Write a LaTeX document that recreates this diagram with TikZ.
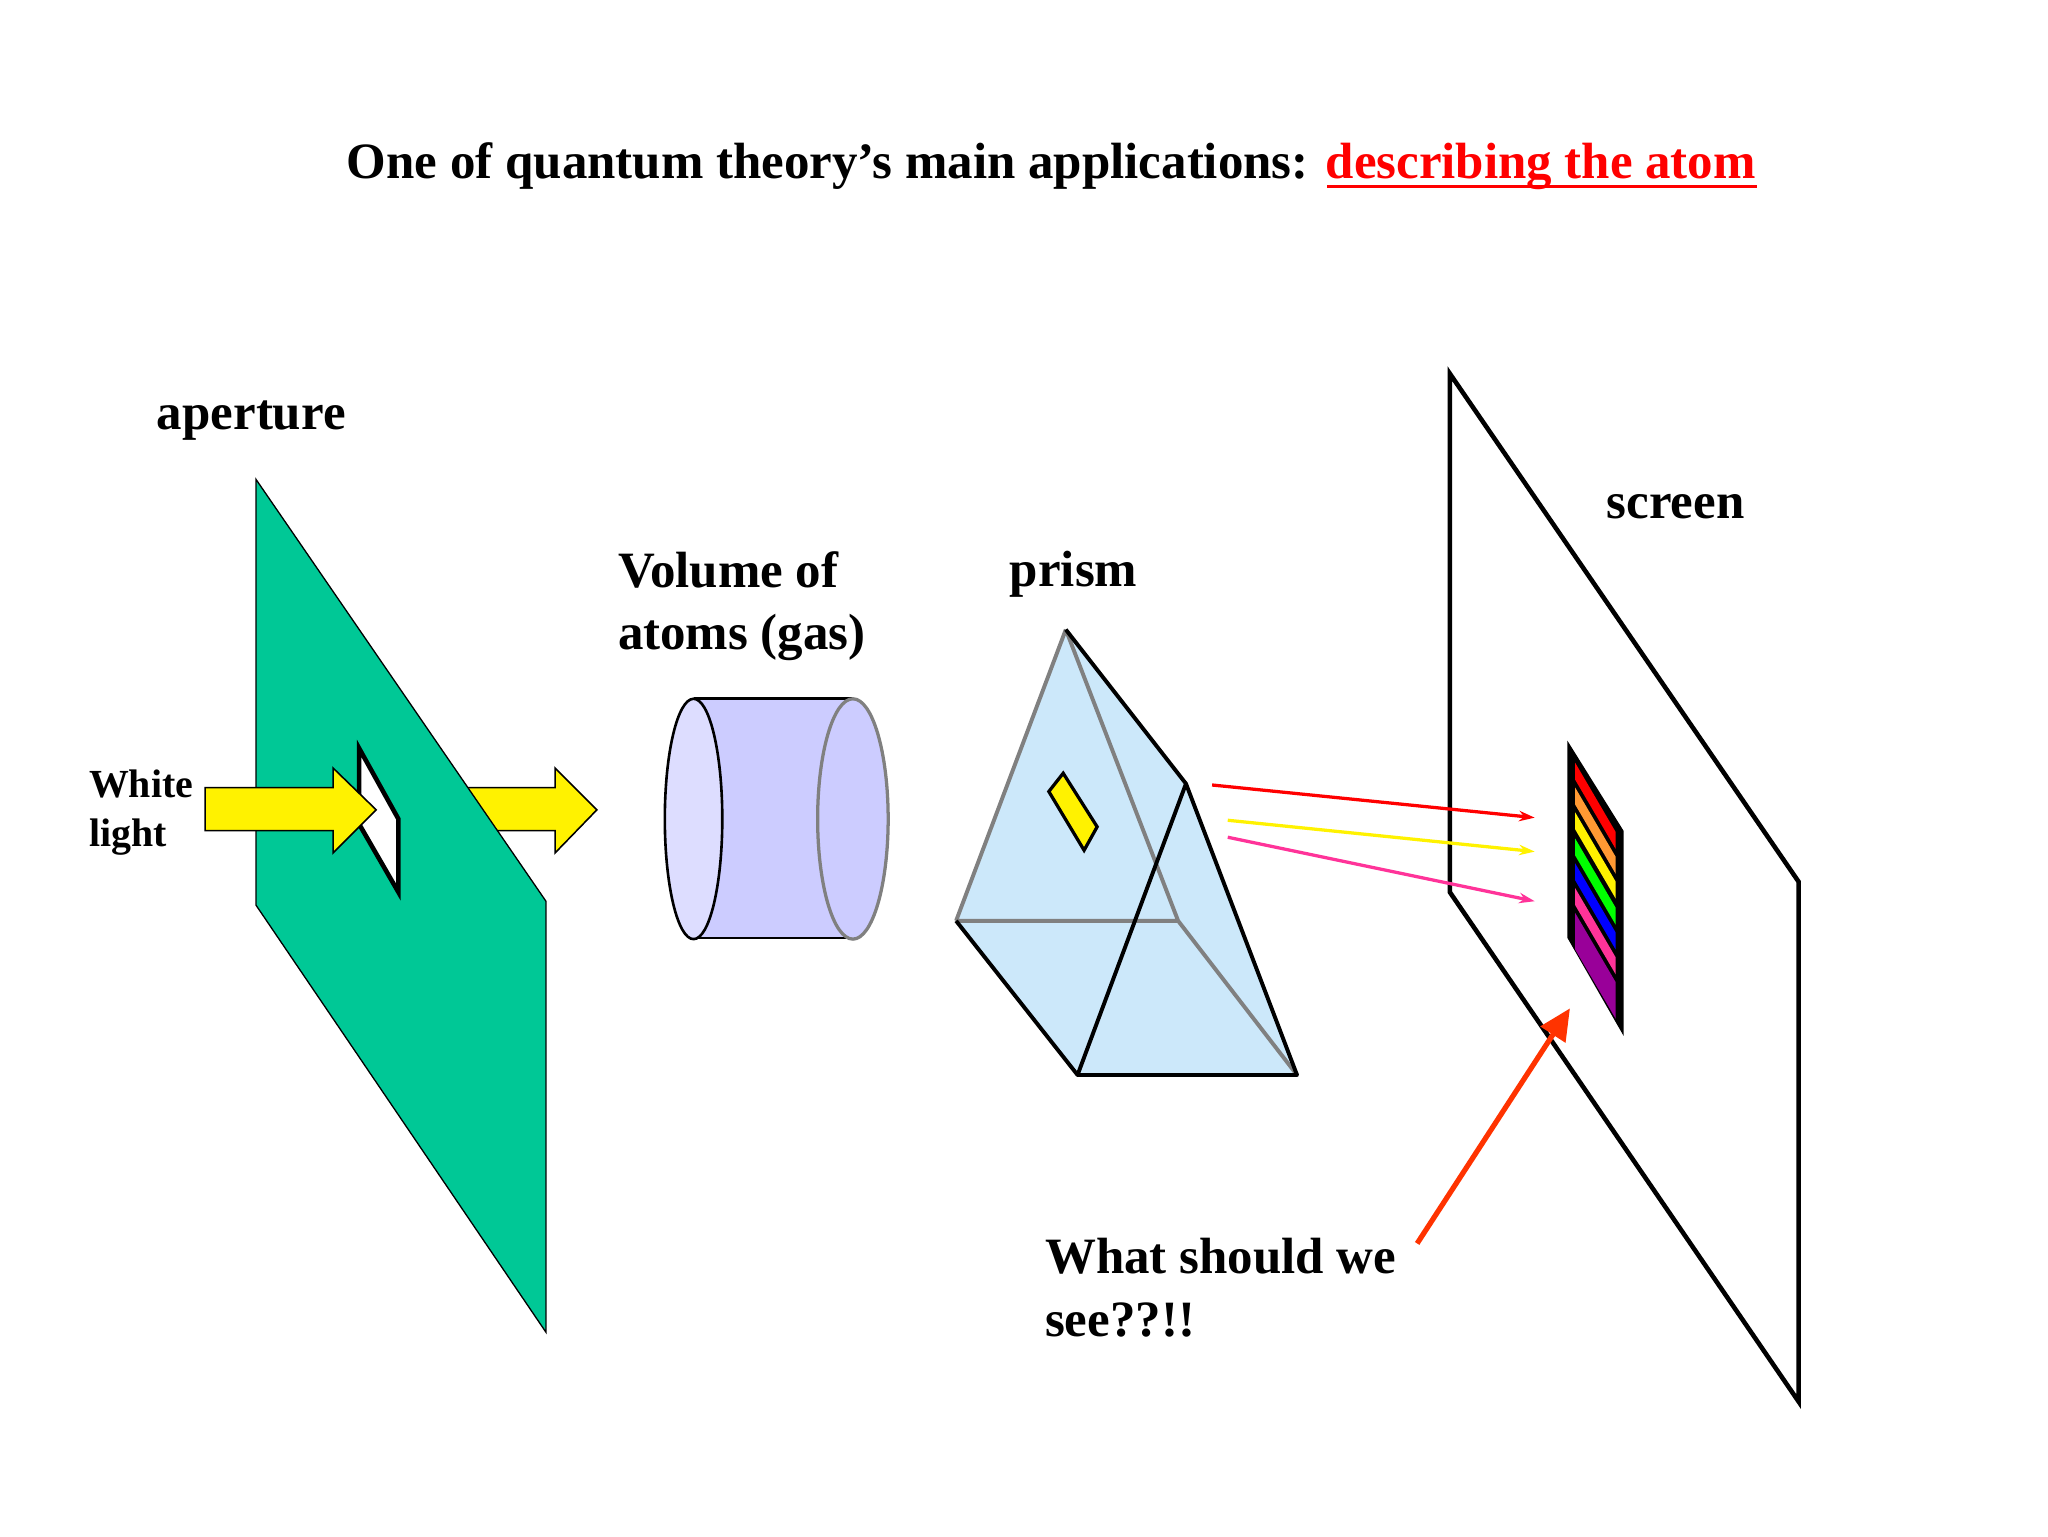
\documentclass[tikz,border=0pt]{standalone}
\usepackage{fontspec}
\setmainfont{Liberation Serif}
\usetikzlibrary{arrows.meta}
\definecolor{apgreen}{RGB}{0,200,150}
\definecolor{cyl}{RGB}{204,204,255}
\definecolor{cylL}{RGB}{221,221,255}
\definecolor{prismblue}{RGB}{204,232,250}
\definecolor{sorange}{RGB}{255,153,51}
\definecolor{sgreen}{RGB}{0,255,0}
\definecolor{spink}{RGB}{255,51,153}
\definecolor{spurple}{RGB}{153,0,153}
\definecolor{qred}{RGB}{255,51,0}
\begin{document}
\begin{tikzpicture}[x=1pt,y=-1pt,
 lbl/.style={font=\fontsize{39}{48}\selectfont\bfseries,anchor=west,align=left,inner sep=0pt},
 yarrow/.style={fill=yellow,draw=black,line width=1.2pt},
 ray/.style={line width=2.5pt,-{Stealth[length=12pt,width=8pt]}}]
\useasboundingbox (0,0) rectangle (1568,1176);
\fill[white] (0,0) rectangle (1568,1176);
\node[lbl,anchor=center] (title) at (805,127) {One of quantum theory’s main applications: \textcolor{red}{describing the atom}};
\draw[red,line width=2pt] (1016,143) -- (1345,143);
% second arrow (behind aperture)
\draw[yarrow] (330,603) -- (425,603) -- (425,588) -- (457,620) -- (425,653) -- (425,636) -- (330,636) -- cycle;
% aperture
\draw[fill=apgreen,draw=black,line width=1pt] (196,367) -- (418,690) -- (418,1020) -- (196,693) -- cycle;
\draw[fill=white,line width=3.5pt] (275,573) -- (305,627) -- (305,683) -- (275,631) -- cycle;
\draw[yarrow] (157,603) -- (255,603) -- (255,588) -- (288,620) -- (255,653) -- (255,636) -- (157,636) -- cycle;
\node[lbl] (ap) at (120,322) {aperture};
\node[lbl,font=\fontsize{30.5}{38}\selectfont\bfseries] (wl) at (68,622) {White\\light};
% cylinder
\fill[cyl] (531,535) rectangle (653,718);
\draw[line width=2pt] (531,535) -- (653,535) (531,718) -- (653,718);
\draw[fill=cyl,draw=gray,line width=2.5pt] (653,627) ellipse (27 and 92);
\draw[fill=cylL,line width=2pt] (531,627) ellipse (22 and 92);
\node[lbl,align=left] (vol) at (473,464) {Volume of\\atoms (gas)};
% prism
\coordinate (A) at (816,482); \coordinate (B) at (908,600); \coordinate (C) at (732,705);
\coordinate (D) at (902,705); \coordinate (E) at (825,823); \coordinate (F) at (993,823);
\fill[prismblue] (A) -- (B) -- (F) -- (E) -- (C) -- cycle;
\draw[gray,line width=3pt] (A) -- (C) (A) -- (D) (C) -- (D) (D) -- (F);
\draw[black,line width=3pt,line join=round] (A) -- (B) -- (F) -- (E) -- (C) (B) -- (E);
\draw[fill=yellow,line width=2.5pt] (803,606) -- (814,592) -- (840,633) -- (830,651) -- cycle;
\node[lbl] (pr) at (773,440) {prism};
% screen
\draw[fill=white,line width=3.5pt] (1110,286) -- (1377,675) -- (1377,1073) -- (1110,683) -- cycle;
\node[lbl] (sc) at (1230,388) {screen};
% spectrum
\fill[black] (1200,567) -- (1243,636) -- (1243,793) -- (1200,718) -- cycle;
\foreach \y/\c in {584/red,603/sorange,622/yellow,642/sgreen,661/blue,680/spink}{
 \fill[\c] (1206,\y) -- (1237,\y+53) -- (1237,\y+66) -- (1206,\y+13) -- cycle;}
\fill[spurple] (1206,699) -- (1237,752) -- (1237,780) -- (1206,727) -- cycle;
% rays
\draw[ray,red] (928,601) -- (1175,626);
\draw[ray,yellow] (940,628) -- (1175,652);
\draw[ray,spink] (940,641) -- (1175,690);
% question
\node[lbl] (q) at (800,986) {What should we\\see??!!};
\coordinate (qe) at (1085,952);
\coordinate (qt) at (1202,772);
\draw[line width=4pt,qred,-{Triangle[length=24pt,width=22pt]}] (qe) -- (qt);
\end{tikzpicture}
\end{document}
